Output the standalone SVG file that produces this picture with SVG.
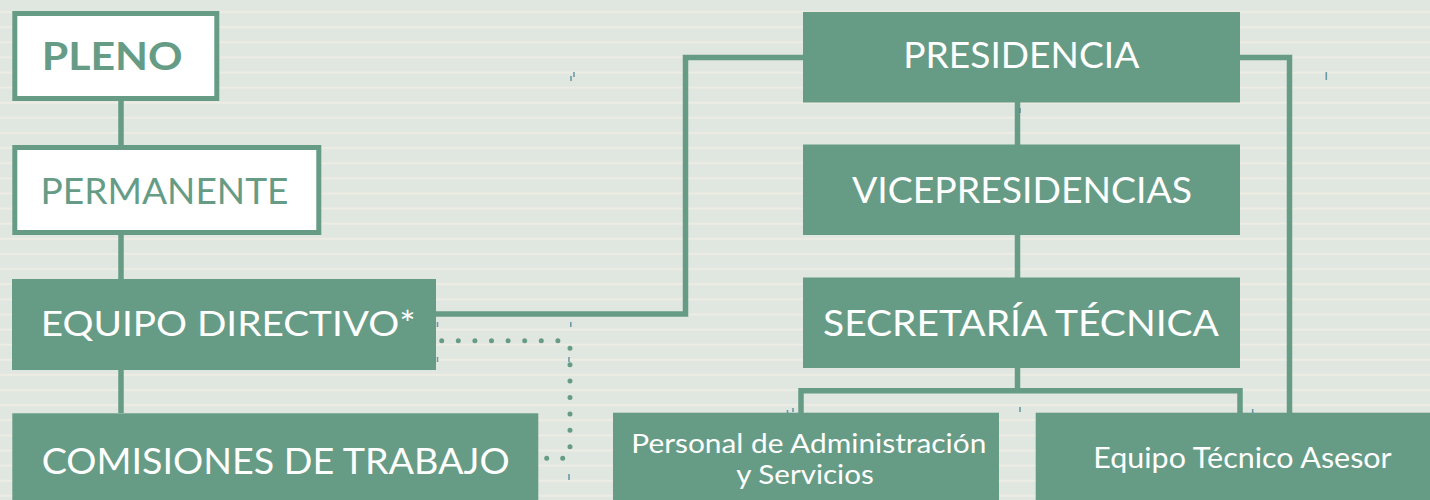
<svg xmlns="http://www.w3.org/2000/svg" width="1430" height="500" viewBox="0 0 1430 500">
  <defs>
    <pattern id="stripes" patternUnits="userSpaceOnUse" x="0" y="0" width="20" height="15.12">
      <rect x="0" y="0" width="20" height="15.12" fill="#e0e6e0"/>
      <rect x="0" y="11" width="20" height="2" fill="#eeede3"/>
    </pattern>
    <style>
      .fill { fill: #669c86; }
      .outline { fill: #ffffff; stroke: #669c86; stroke-width: 5; }
      .wt { font-family: Lato, "Open Sans", "Liberation Sans", sans-serif; fill: #ffffff; }
      .gt { font-family: Lato, "Open Sans", "Liberation Sans", sans-serif; fill: #669c86; }
      .line { fill: none; stroke: #669c86; stroke-width: 5.5; }
      .dots { fill: none; stroke: #669c86; stroke-width: 5; stroke-linecap: round; }
      .tick { stroke: #4f8797; stroke-width: 1.6; opacity: 0.8; }
    </style>
  </defs>
  <rect x="0" y="0" width="1430" height="500" fill="url(#stripes)"/>

  <g id="connectors">
    <path class="line" d="M121,99 V413"/>
    <path class="line" d="M436,314 H685.5 V57.5 H803"/>
    <path class="line" d="M1240,57.5 H1289.5 V413"/>
    <path class="line" d="M1017.5,102 V391"/>
    <path class="line" d="M801,413 V390.8 H1240 V413"/>
    <path class="dots" stroke-dasharray="0 16.6" d="M441.7,340.7 H558"/>
    <path class="dots" stroke-dasharray="0 16.4" d="M570,348.3 V447"/>
    <path class="dots" stroke-dasharray="0 16" d="M546.7,458.3 H563"/>
  </g>

  <g id="pleno">
    <rect class="outline" x="14.8" y="13.5" width="202" height="85"/>
    <text class="gt" x="41.7" y="70" font-size="38" font-weight="bold" textLength="141" lengthAdjust="spacingAndGlyphs">PLENO</text>
  </g>
  <g id="permanente">
    <rect class="outline" x="14.8" y="147.5" width="304" height="85"/>
    <text class="gt" x="40.5" y="204" font-size="36" textLength="248" lengthAdjust="spacingAndGlyphs">PERMANENTE</text>
  </g>
  <g id="equipo-directivo">
    <rect class="fill" x="12" y="279" width="424" height="91"/>
    <text class="wt" x="40.7" y="335.7" font-size="35" textLength="375" lengthAdjust="spacingAndGlyphs">EQUIPO DIRECTIVO*</text>
  </g>
  <g id="comisiones">
    <rect class="fill" x="12.3" y="413.3" width="526" height="90"/>
    <text class="wt" x="41.7" y="474" font-size="36" textLength="468" lengthAdjust="spacingAndGlyphs">COMISIONES DE TRABAJO</text>
  </g>
  <g id="presidencia">
    <rect class="fill" x="803" y="12" width="437" height="90.5"/>
    <text class="wt" x="903.3" y="68.3" font-size="36" textLength="236" lengthAdjust="spacingAndGlyphs">PRESIDENCIA</text>
  </g>
  <g id="vicepresidencias">
    <rect class="fill" x="803" y="144.5" width="437" height="90.5"/>
    <text class="wt" x="852" y="203" font-size="36" textLength="340" lengthAdjust="spacingAndGlyphs">VICEPRESIDENCIAS</text>
  </g>
  <g id="secretaria">
    <rect class="fill" x="803" y="277.5" width="437" height="90.5"/>
    <text class="wt" x="823" y="336" font-size="36" textLength="396" lengthAdjust="spacingAndGlyphs">SECRETARÍA TÉCNICA</text>
  </g>
  <g id="personal">
    <rect class="fill" x="613" y="412.7" width="386" height="90"/>
    <text class="wt" x="631.3" y="452.5" font-size="26.5" textLength="355" lengthAdjust="spacingAndGlyphs">Personal de Administración</text>
    <text class="wt" x="736.3" y="484.4" font-size="26.5" textLength="137.4" lengthAdjust="spacingAndGlyphs">y Servicios</text>
  </g>
  <g id="equipo-tecnico">
    <rect class="fill" x="1035.7" y="412.7" width="400" height="90"/>
    <text class="wt" x="1093.3" y="467.7" font-size="29" textLength="298.4" lengthAdjust="spacingAndGlyphs">Equipo Técnico Asesor</text>
  </g>

  <g id="marks">
    <path class="tick" d="M571,76 V81 M574,72 V77 M1326.3,72 V80 M1020,108 V113 M437.5,322 V327 M570.8,322 V327 M437.5,357 V362 M569,357 V362 M569,474 V480 M787.5,410 V413 M793,408 V412 M1020,407 V412 M1252.7,409 V413"/>
  </g>
</svg>
